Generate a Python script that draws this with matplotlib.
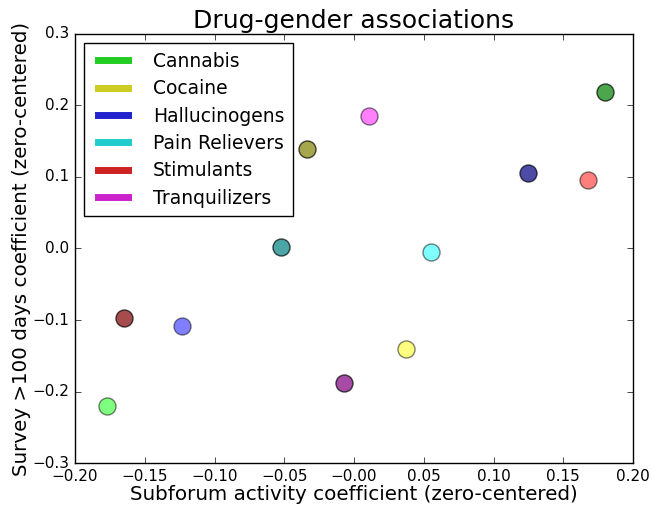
import numpy as np
import matplotlib
matplotlib.use('Agg')
from matplotlib import pyplot as plt
from matplotlib.lines import Line2D
from matplotlib.ticker import FuncFormatter

drugs = ['Cannabis', 'Cocaine', 'Hallucinogens', 'Pain Relievers', 'Stimulants', 'Tranquilizers']
base_colors = [(0, 1, 0), (1, 1, 0), (0, 0, 1), (0, 1, 1), (1, 0, 0), (1, 0, 1)]
legend_colors = ['#22cc22', '#cccc22', '#2222cc', '#22cccc', '#cc2222', '#cc22cc']

# first group (dark markers)
x_dark = [0.180, -0.034, 0.125, -0.052, -0.165, -0.007]
y_dark = [0.219, 0.139, 0.106, 0.002, -0.097, -0.188]
# second group (light markers)
x_light = [-0.177, 0.037, -0.123, 0.055, 0.168, 0.011]
y_light = [-0.220, -0.141, -0.108, -0.005, 0.096, 0.185]

plt.style.use('classic')
fig = plt.figure(figsize=(6.52, 5.05), dpi=100, facecolor='white')
ax = fig.add_axes([0.115, 0.083, 0.856, 0.850])

for i, drug in enumerate(drugs):
    c = np.array(base_colors[i])
    ax.scatter([x_dark[i]], [y_dark[i]], s=150, color=c * 0.5, alpha=0.7,
               edgecolors='black', linewidths=1.0, zorder=3)
    ax.scatter([x_light[i]], [y_light[i]], s=150, color=c, alpha=0.5,
               edgecolors='black', linewidths=1.0, zorder=3)

handles = [Line2D([0], [0], color=col, lw=5) for col in legend_colors]
leg = ax.legend(handles, drugs, loc='upper left', fontsize=13.5, fancybox=False,
                handlelength=2.2, borderpad=0.45, labelspacing=0.45, handletextpad=1.0)
leg.get_frame().set_linewidth(1.0)

ax.set_xlim(-0.2, 0.2)
ax.set_ylim(-0.3, 0.3)
ax.set_xticks(np.arange(-0.2, 0.2001, 0.05))
ax.set_yticks(np.arange(-0.3, 0.3001, 0.1))
ax.xaxis.set_major_formatter(FuncFormatter(lambda v, p: ('%.2f' % v).replace('-', '\u2212')))
ax.yaxis.set_major_formatter(FuncFormatter(lambda v, p: ('%.1f' % v).replace('-', '\u2212')))
ax.tick_params(labelsize=11)

ax.set_title('Drug-gender associations', fontsize=18, pad=4)
ax.set_xlabel('Subforum activity coefficient (zero-centered)', fontsize=14.3, labelpad=1)
ax.set_ylabel('Survey >100 days coefficient (zero-centered)', fontsize=14.3, labelpad=1)

fig.savefig('out.png', dpi=100, facecolor='white')
